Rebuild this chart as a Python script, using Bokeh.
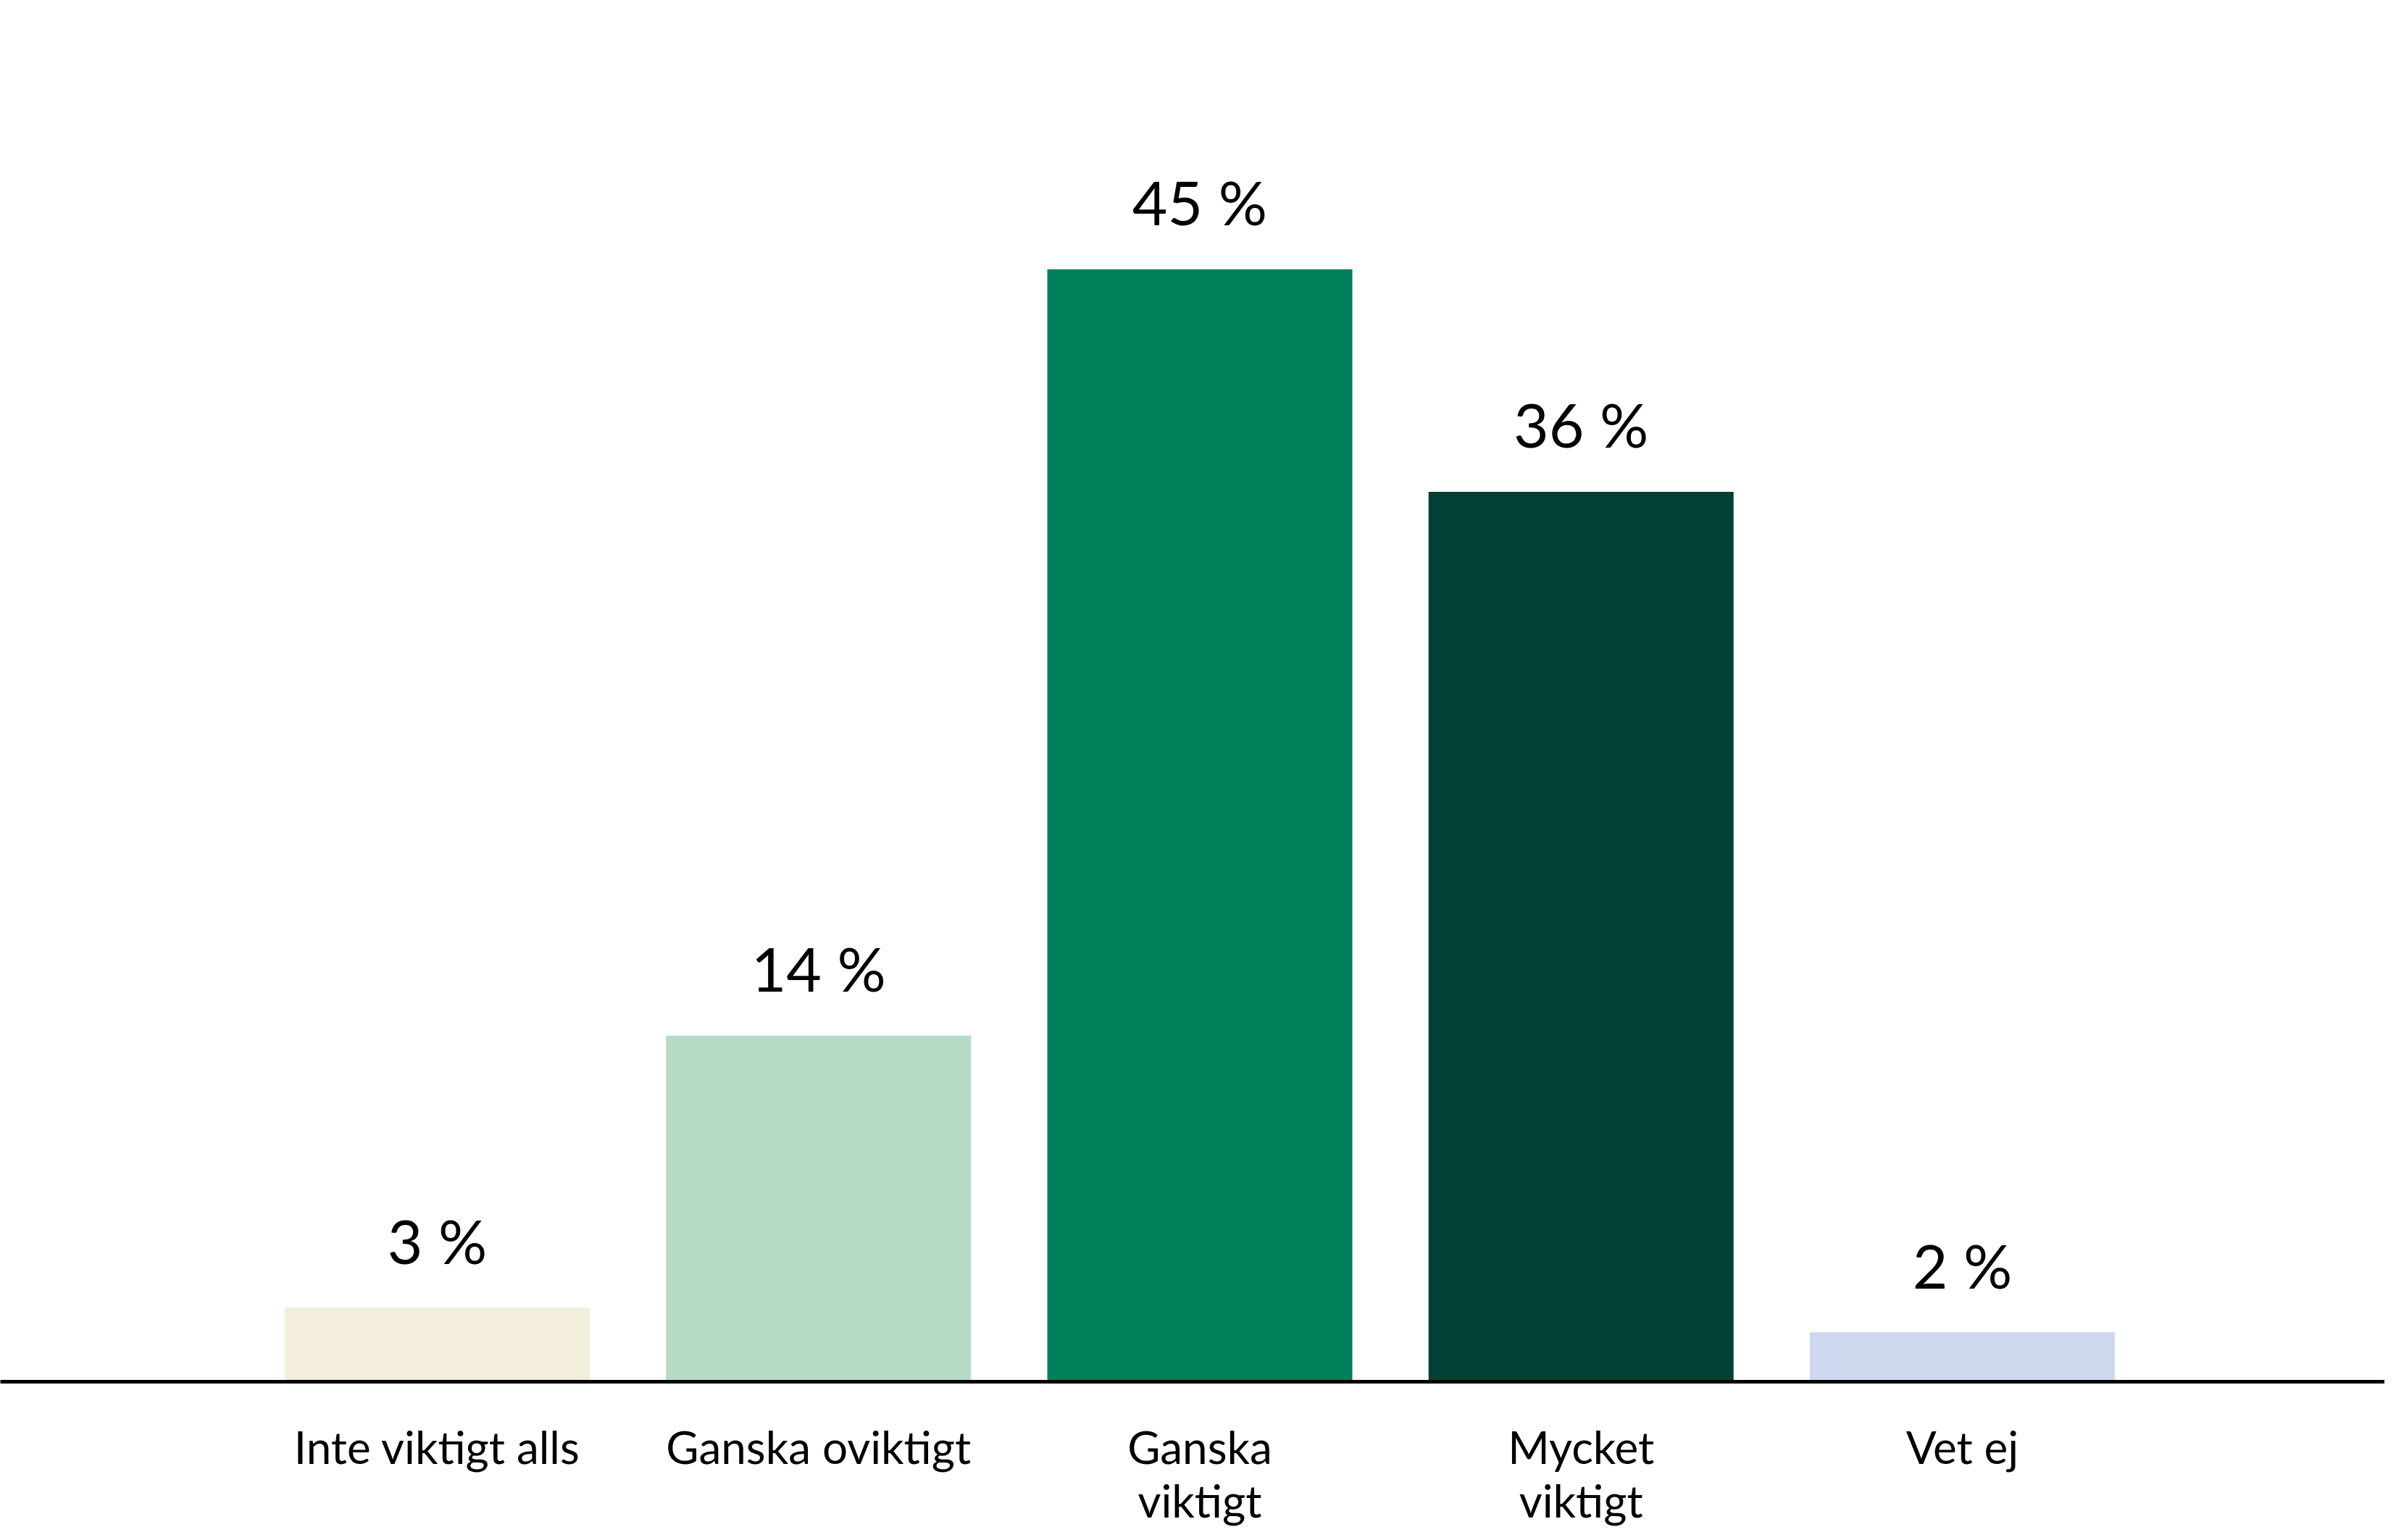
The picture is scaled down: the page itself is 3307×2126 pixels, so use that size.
from bokeh.plotting import figure
from bokeh.models import ColumnDataSource, Range1d, FixedTicker
from bokeh.core.properties import value
from bokeh.embed import file_html
from bokeh.resources import INLINE

categories = ["Inte viktigt alls", "Ganska oviktigt", "Ganska viktigt", "Mycket viktigt", "Vet ej"]
tick_labels = ["Inte viktigt alls", "Ganska oviktigt", "Ganska\nviktigt", "Mycket\nviktigt", "Vet ej"]
values = [3, 14, 45, 36, 2]
colors = ["#F3EDDC", "#B5DBC6", "#00805A", "#024035", "#CDD7EE"]
value_labels = [f"{v} %" for v in values]

FONT = "Lato"

positions = list(range(len(categories)))
src = ColumnDataSource(dict(x=positions, top=values, color=colors, label=value_labels))

p = figure(width=3291, height=2110, output_backend="svg", toolbar_location=None,
           x_range=Range1d(-1.146, 5.108), y_range=Range1d(0, 55.88),
           min_border_left=0, min_border_right=0, min_border_top=0, min_border_bottom=0)

p.vbar(x="x", top="top", bottom=0, width=0.8, fill_color="color", line_color=None, source=src)
p.text(x="x", y="top", text="label", source=src, text_align="center", text_baseline="alphabetic",
       y_offset=-93, text_font=value(FONT), text_font_size="84px", text_color="#000000")

p.yaxis.visible = False
p.xgrid.visible = False
p.ygrid.visible = False
p.outline_line_color = None
p.background_fill_color = "white"
p.border_fill_color = "white"

xa = p.xaxis[0]
xa.ticker = FixedTicker(ticks=positions)
xa.major_label_overrides = {i: lab for i, lab in zip(positions, tick_labels)}
xa.major_tick_line_color = None
xa.minor_tick_line_color = None
xa.major_tick_out = 0
xa.major_tick_in = 0
xa.axis_line_color = "#000000"
xa.axis_line_width = 5
xa.major_label_standoff = 52
xa.major_label_text_font = FONT
xa.major_label_text_font_size = "62px"
xa.major_label_text_line_height = 1.0
xa.major_label_text_color = "#000000"

open("out.html", "w").write(file_html(p, INLINE))
